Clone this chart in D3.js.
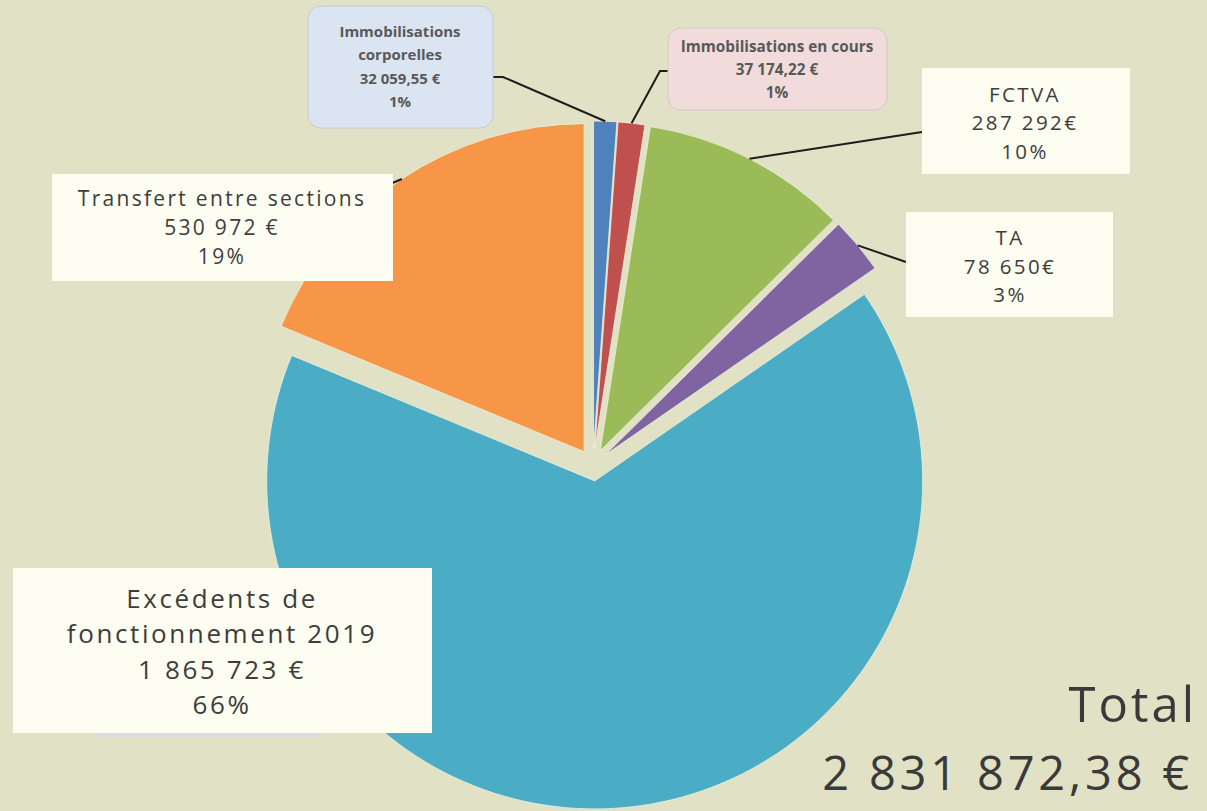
<!DOCTYPE html>
<html lang="fr">
<head>
<meta charset="utf-8">
<title>Recettes d'investissement</title>
<script src="https://cdn.jsdelivr.net/npm/d3@7"></script>
<style>
  html, body { margin: 0; padding: 0; background: #e1e1c6; }
  svg { display: block; }
</style>
</head>
<body>
<svg id="chart" width="1207" height="811"></svg>
<script>
// Recettes d'investissement, clockwise from 12 o'clock
const categories = [
  "Immobilisations corporelles",
  "Immobilisations en cours",
  "FCTVA",
  "TA",
  "Excédents de fonctionnement 2019",
  "Transfert entre sections"
];
const values = [32059.55, 37174.22, 287292, 78650, 1865723, 530972];
const colors = ["#4f81bd", "#c0504d", "#9bbb59", "#8064a2", "#4bacc6", "#f79646"];
// labels written with no space before the euro sign
const tightEuro = ["FCTVA", "TA"];
const totalLabel = "2 831 872,38 €";

const svg = d3.select("#chart");
const W = 1207, H = 811;
const cx = 593, cy = 465, R = 328, explode = 16;

svg.append("rect").attr("width", W).attr("height", H).attr("fill", "#e1e1c6");

const data = categories.map((c, i) => ({ name: c, value: values[i], color: colors[i] }));
const total = d3.sum(values);

const pie = d3.pie().sort(null).value(d => d.value).startAngle(0).endAngle(2 * Math.PI);
const arcs = pie(data);
const arc = d3.arc().innerRadius(0).outerRadius(R);

const mid = a => (a.startAngle + a.endAngle) / 2;
const offset = (a, d) => [Math.sin(mid(a)) * d, -Math.cos(mid(a)) * d];

const g = svg.append("g").attr("transform", `translate(${cx},${cy})`);
g.selectAll("path.slice")
  .data(arcs)
  .join("path")
  .attr("class", "slice")
  .attr("transform", a => { const [x, y] = offset(a, explode); return `translate(${x},${y})`; })
  .attr("d", arc)
  .attr("fill", a => a.data.color)
  .attr("stroke", "#eef0dc")
  .attr("stroke-width", 0.8);

// number formatting, French style
function frNumber(v) {
  const decimals = Math.round(v * 100) % 100 !== 0;
  const s = decimals ? v.toFixed(2) : String(Math.round(v));
  const [intPart, dec] = s.split(".");
  const grouped = intPart.replace(/\B(?=(\d{3})+(?!\d))/g, " ");
  return dec ? grouped + "," + dec : grouped;
}
function euro(d) {
  return frNumber(d.value) + (tightEuro.includes(d.name) ? "€" : " €");
}
const pct = d => Math.round(d.value / total * 100) + "%";

// label boxes: geometry, style and anchor for the leader line
const boxes = {
  "Immobilisations corporelles": {
    x: 308, y: 6, w: 185, h: 122, rx: 13, fill: "#dbe5f1", stroke: "#c4cbd4",
    lines: ["Immobilisations", "corporelles"], base: 37, step: 23.3, cxText: 400,
    font: "'Open Sans', sans-serif", size: 15, weight: 700, color: "#595959", ls: 0,
    leader: [[503, 77], [493, 77]]
  },
  "Immobilisations en cours": {
    x: 668, y: 28, w: 219, h: 82, rx: 13, fill: "#f2dcdb", stroke: "#d4c8c8",
    lines: ["Immobilisations en cours"], base: 52, step: 23, cxText: 777,
    font: "'Open Sans', sans-serif", size: 15.3, weight: 700, color: "#595959", ls: 0,
    leader: [[660, 71], [668, 71]]
  },
  "FCTVA": {
    x: 922, y: 68, w: 208, h: 106, rx: 0, fill: "#fdfdf1", stroke: "none",
    lines: ["FCTVA"], base: 102, step: 28.3, cxText: 1025,
    font: "'Open Sans', sans-serif", size: 20.5, weight: 400, color: "#3d3d3d", ls: 2.4,
    leader: [[922, 132]]
  },
  "TA": {
    x: 906, y: 212, w: 207, h: 105, rx: 0, fill: "#fdfdf1", stroke: "none",
    lines: ["TA"], base: 245, step: 28.5, cxText: 1010,
    font: "'Open Sans', sans-serif", size: 20.5, weight: 400, color: "#3d3d3d", ls: 2.4,
    leader: [[906, 262]]
  },
  "Transfert entre sections": {
    x: 52, y: 174, w: 341, h: 107, rx: 0, fill: "#fdfdf1", stroke: "none",
    lines: ["Transfert entre sections"], base: 206, step: 29, cxText: 222,
    font: "'Open Sans', sans-serif", size: 21, weight: 400, color: "#3d3d3d", ls: 2.3,
    leader: [[390, 184]]
  },
  "Excédents de fonctionnement 2019": {
    x: 13, y: 568, w: 419, h: 165, rx: 0, fill: "#fdfdf1", stroke: "none",
    lines: ["Excédents de", "fonctionnement 2019"], base: 608, step: 35.3, cxText: 222,
    font: "'Open Sans', sans-serif", size: 26, weight: 400, color: "#3d3d3d", ls: 2.6,
    leader: null
  }
};

// leader lines, starting on the outer arc at each slice's middle angle
const leaders = svg.append("g");
arcs.forEach(a => {
  const b = boxes[a.data.name];
  if (!b || !b.leader) return;
  const [ox, oy] = offset(a, explode + R);
  const pts = [[cx + ox, cy + oy], ...b.leader];
  leaders.append("path")
    .attr("d", d3.line()(pts))
    .attr("fill", "none")
    .attr("stroke", "#1c1c1c")
    .attr("stroke-width", 2);
});

// faint strip under the large label
svg.append("rect")
  .attr("x", 96).attr("y", 726).attr("width", 226).attr("height", 11).attr("rx", 5)
  .attr("fill", "#d6dde3");

const labels = svg.append("g");
arcs.forEach(a => {
  const b = boxes[a.data.name];
  labels.append("rect")
    .attr("x", b.x).attr("y", b.y).attr("width", b.w).attr("height", b.h)
    .attr("rx", b.rx).attr("ry", b.rx)
    .attr("fill", b.fill)
    .attr("stroke", b.stroke).attr("stroke-width", 1);
  const lines = [...b.lines, euro(a.data), pct(a.data)];
  lines.forEach((t, i) => {
    labels.append("text")
      .attr("x", b.cxText)
      .attr("y", b.base + i * b.step)
      .attr("text-anchor", "middle")
      .attr("font-family", b.font)
      .attr("font-size", b.size)
      .attr("font-weight", b.weight)
      .attr("letter-spacing", b.ls)
      .attr("fill", b.color)
      .text(t);
  });
});

// grand total
const tot = svg.append("g")
  .attr("font-family", "'Open Sans', sans-serif")
  .attr("fill", "#3a3a3a")
  .attr("text-anchor", "end");
tot.append("text").attr("x", 1197).attr("y", 722).attr("font-size", 49).attr("letter-spacing", 3).text("Total");
tot.append("text").attr("x", 1193).attr("y", 790).attr("font-size", 47).attr("letter-spacing", 3.8).text(totalLabel);
</script>
</body>
</html>
